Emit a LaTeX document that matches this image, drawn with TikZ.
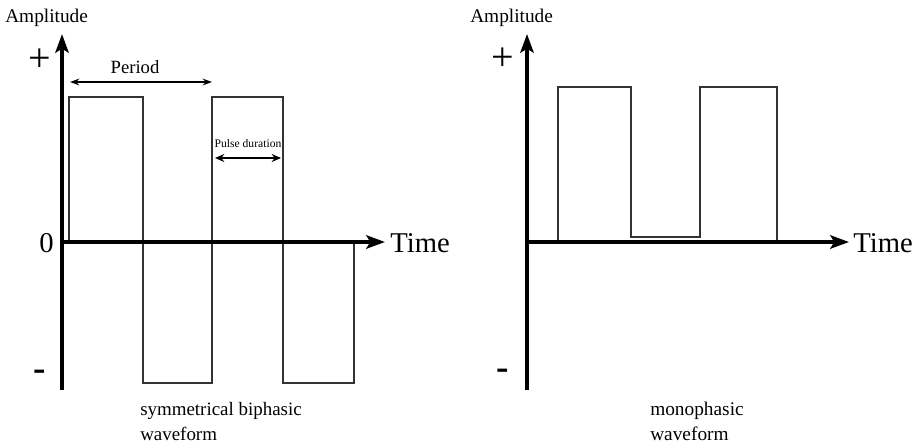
\documentclass[tikz,border=0pt]{standalone}
\usepackage{fontspec}
\setmainfont{Liberation Serif}
\usetikzlibrary{arrows.meta}
\begin{document}
\begin{tikzpicture}[x=0.75pt,y=-0.75pt,
  axis/.style={line width=3.2pt,-{Stealth[length=14pt,width=10pt,inset=3pt]}},
  wave/.style={line width=0.9pt,black!80,line join=miter},
  dim/.style={line width=1.2pt,{Stealth[length=7pt,width=5pt]}-{Stealth[length=7pt,width=5pt]}},
  dimb/.style={line width=2pt,{Stealth[length=7pt,width=6pt]}-{Stealth[length=7pt,width=6pt]}},
  lbl/.style={inner sep=0pt,font=\fontsize{14.5}{17}\selectfont},
  big/.style={inner sep=0pt,font=\fontsize{21.5}{25}\selectfont},
  sign/.style={inner sep=0pt,font=\fontsize{30}{34}\selectfont}]
\useasboundingbox (0,0) rectangle (919,445);
% ---------- left panel ----------
\coordinate (LO) at (62,242);
\coordinate (LB) at (62,390);
\coordinate (LT) at (62,34);
\coordinate (LX) at (385,242);
\draw[wave] (69,242) -- (69,97) -- (143,97) -- (143,383) -- (212,383) -- (212,97)
  -- (283,97) -- (283,383) -- (354,383) -- (354,242);
\draw[line width=3.2pt] (LB) -- (LO);
\draw[axis] (LO) -- (LT);
\draw[axis] (LO) -- (LX);
\node[lbl,anchor=base west] (amp1) at (5,23) {Amplitude};
\node[sign] (plus1) at (40,60) {+};
\node[sign,font=\fontsize{28}{32}\selectfont\bfseries] (minus1) at (40,375) {-};
\node[big,anchor=base east] (zero1) at (54,252) {0};
\node[big,anchor=base west] (time1) at (390,252) {Time};
\coordinate (P1) at (70,82);
\coordinate (P2) at (212,82);
\draw[dim] (P1) -- (P2);
\node[lbl,font=\fontsize{14}{17}\selectfont,anchor=base] (period) at (135,74) {Period};
\coordinate (D1) at (215,158);
\coordinate (D2) at (281,158);
\draw[dimb] (D1) -- (D2);
\node[inner sep=0pt,font=\fontsize{8.7}{10}\selectfont,anchor=base] (pd) at (248,148) {Pulse duration};
\node[lbl,font=\fontsize{14.2}{17}\selectfont,anchor=base west] (cap1a) at (140,415) {symmetrical biphasic};
\node[lbl,font=\fontsize{14.2}{17}\selectfont,anchor=base west] (cap1b) at (140,440) {waveform};
% ---------- right panel ----------
\coordinate (RO) at (527,242);
\coordinate (RB) at (527,390);
\coordinate (RT) at (527,34);
\coordinate (RX) at (849,242);
\draw[wave] (558,242) -- (558,87) -- (631,87) -- (631,237) -- (700,237) -- (700,87)
  -- (777,87) -- (777,242);
\draw[line width=3.2pt] (RB) -- (RO);
\draw[axis] (RO) -- (RT);
\draw[axis] (RO) -- (RX);
\node[lbl,anchor=base west] (amp2) at (470,23) {Amplitude};
\node[sign] (plus2) at (503,59) {+};
\node[sign,font=\fontsize{28}{32}\selectfont\bfseries] (minus2) at (503,374) {-};
\node[big,anchor=base west] (time2) at (853,252) {Time};
\node[lbl,anchor=base west] (cap2a) at (650,415) {monophasic};
\node[lbl,anchor=base west] (cap2b) at (650,440) {waveform};
\end{tikzpicture}
\end{document}
